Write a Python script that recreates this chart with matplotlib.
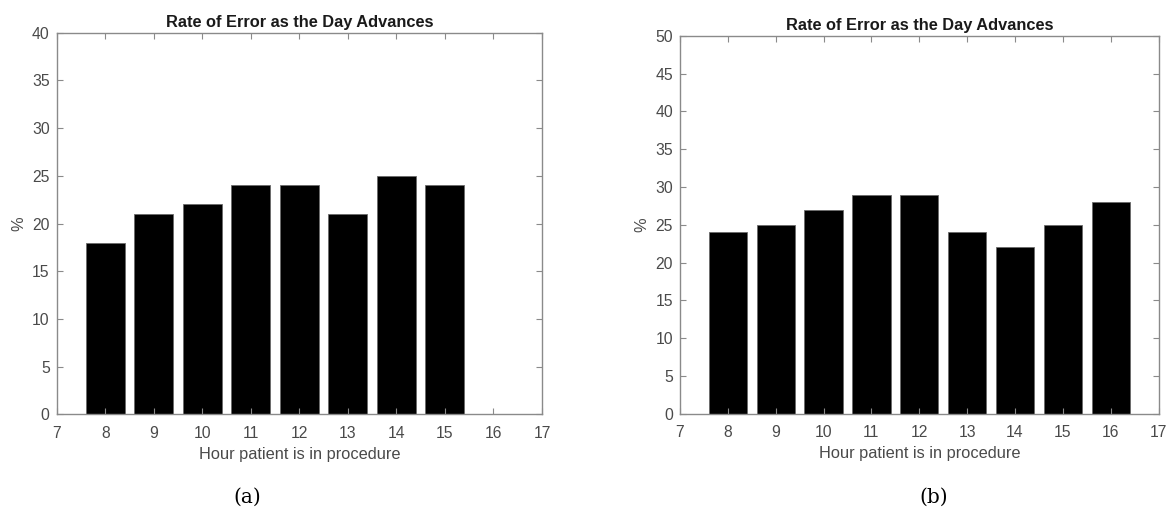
import matplotlib
matplotlib.use("Agg")
import matplotlib.pyplot as plt

hours_a = [8, 9, 10, 11, 12, 13, 14, 15]
rate_a = [18, 21, 22, 24, 24, 21, 25, 24]
hours_b = [8, 9, 10, 11, 12, 13, 14, 15, 16]
rate_b = [24, 25, 27, 29, 29, 24, 22, 25, 28]
title = "Rate of Error as the Day Advances"
xlabel = "Hour patient is in procedure"
ylabel = "%"

plt.rcParams['font.family'] = ['Liberation Sans', 'DejaVu Sans']

fig = plt.figure(figsize=(11.66, 5.09), dpi=100)
ax_a = fig.add_axes([0.0486, 0.186, 0.4162, 0.7497])
ax_b = fig.add_axes([0.5832, 0.1876, 0.4104, 0.7417])

tick_col = '#4a4a4a'
spine_col = '#8a8a8a'

def style(ax, ymax, data_x, data_y):
    ax.bar(data_x, data_y, width=0.8, color='black', edgecolor='#6a6a6a', linewidth=0.6)
    ax.set_xlim(7, 17)
    ax.set_ylim(0, ymax)
    ax.set_xticks(range(7, 18))
    ax.set_yticks(range(0, ymax + 1, 5))
    ax.tick_params(direction='in', length=4, width=0.8, colors=spine_col,
                   labelcolor=tick_col, labelsize=11.3, top=True, right=True)
    ax.tick_params(axis='x', pad=8.5)
    ax.tick_params(axis='y', pad=5)
    for s in ax.spines.values():
        s.set_color(spine_col)
        s.set_linewidth(1.0)
    ax.set_title(title, fontsize=11.8, fontweight='bold', color='#1a1a1a', pad=4)
    ax.set_xlabel(xlabel, fontsize=11.8, color=tick_col, labelpad=4)
    ax.set_ylabel(ylabel, fontsize=11.8, color=tick_col, labelpad=4)

style(ax_a, 40, hours_a, rate_a)
style(ax_b, 50, hours_b, rate_b)

fig.text(247 / 1166, 1 - 497 / 509, "(a)", ha='center', va='center',
         fontsize=14.5, family=['DejaVu Serif'], color='black')
fig.text(934 / 1166, 1 - 497 / 509, "(b)", ha='center', va='center',
         fontsize=14.5, family=['DejaVu Serif'], color='black')

fig.savefig("out.png", dpi=100)
